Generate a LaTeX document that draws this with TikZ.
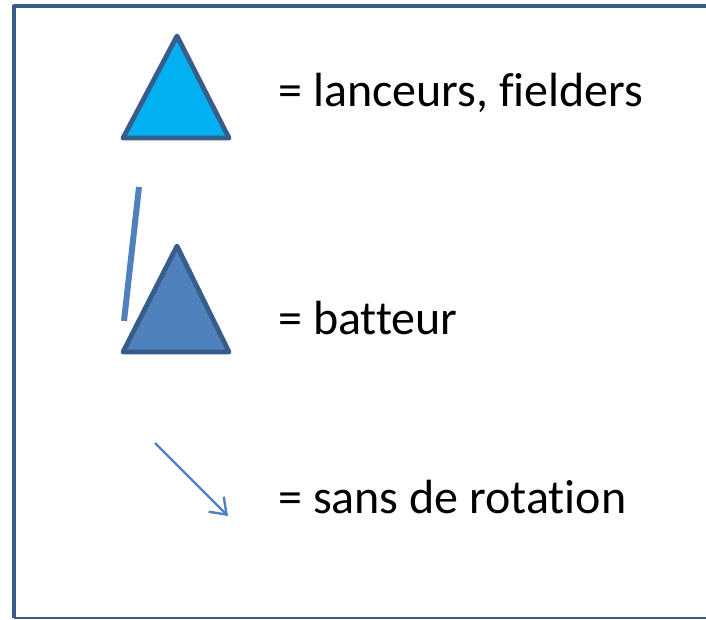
\documentclass[tikz,border=0pt]{standalone}
\usepackage{fontspec}
\setmainfont[Ligatures={NoCommon,NoRequired,NoContextual}]{Carlito}
\usetikzlibrary{arrows.meta}
\definecolor{rim}{HTML}{385D8A}
\definecolor{fieldblue}{HTML}{00B0F0}
\definecolor{batblue}{HTML}{4F81BD}
\begin{document}
\begin{tikzpicture}[x=0.75pt,y=-0.75pt,line join=round,
  legend/.style={anchor=west,inner sep=0pt,font=\fontsize{36}{42}\selectfont}]
\useasboundingbox (0,0) rectangle (706,620);
% cadre
\draw[rim,line width=0.8pt] (14,618) -- (720,618);
\draw[rim,line width=3pt] (14,617.5) -- (14,6) -- (720,6);
% lanceurs, fielders
\filldraw[fill=fieldblue,draw=rim,line width=3.6pt] (123,138) -- (177,36) -- (229,138) -- cycle;
\node[legend] (fielders) at (278,93) {= lanceurs, fielders};
% batteur
\draw[batblue,line width=4.5pt] (139,187) -- (124,321);
\filldraw[fill=batblue,draw=rim,line width=3.6pt] (123,352) -- (177,246) -- (229,352) -- cycle;
\node[legend] (batteur) at (278,318) {= batteur};
% sans de rotation
\draw[batblue,line width=1.8pt,-{Straight Barb[length=11pt,width=16pt]}] (155,443) -- (228,516);
\node[legend] (rotation) at (278,497) {= sans de rotation};
\end{tikzpicture}
\end{document}
